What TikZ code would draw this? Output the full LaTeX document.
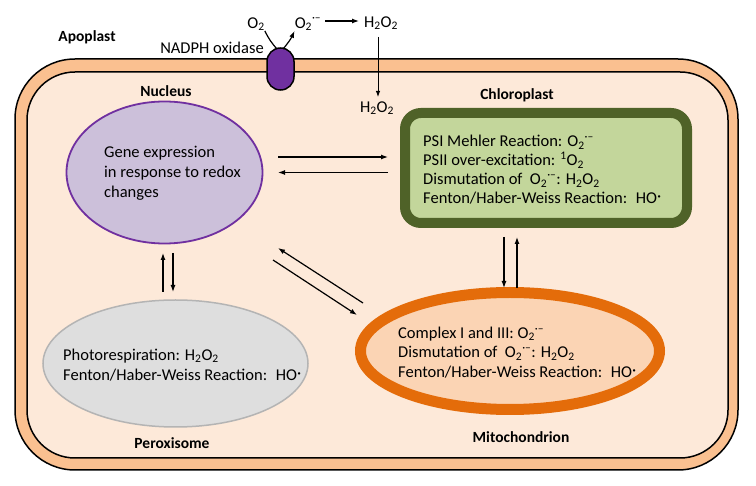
\documentclass[tikz,border=0pt]{standalone}
\usepackage{fontspec}
\setmainfont{Carlito}
\usetikzlibrary{arrows.meta,shapes.geometric}
\definecolor{membrane}{HTML}{FAC090}
\definecolor{cyto}{HTML}{FDE9D9}
\definecolor{pillpurple}{HTML}{7030A0}
\definecolor{nucfill}{HTML}{CCC0DA}
\definecolor{nucline}{HTML}{7030A0}
\definecolor{chlline}{HTML}{4F6228}
\definecolor{chlfill}{HTML}{C3D69B}
\definecolor{mitline}{HTML}{E46C0A}
\definecolor{mitfill}{HTML}{FBD4B4}
\definecolor{perfill}{HTML}{DEDEDE}
\definecolor{perline}{HTML}{B4B4B4}
\newcommand{\Otwo}{O\textsubscript{2}}
\newcommand{\Osup}{O\textsubscript{2}\textsuperscript{·–}}
\newcommand{\HtwoOtwo}{H\textsubscript{2}O\textsubscript{2}}
\newcommand{\HOrad}{HO\raisebox{0.12em}{·}}
\begin{document}
\begin{tikzpicture}[x=1pt,y=-1pt,
  every node/.style={font=\fontsize{16.5}{20}\selectfont, inner sep=0pt},
  lbl/.style={font=\bfseries\fontsize{15.5}{18}\selectfont},
  body/.style={align=left, anchor=west},
  arr/.style={line width=1.2pt, -{Latex[length=7pt,width=5pt]}},
  organelle/.style={ellipse, inner sep=0pt}]
\useasboundingbox (0,0) rectangle (756,486);
% cell
\node[draw=black, line width=1.5pt, fill=membrane, rounded corners=60pt,
  minimum width=723pt, minimum height=411pt] (wall) at (376.5,264.5) {};
\node[draw=black, line width=1.5pt, fill=cyto, rounded corners=48pt,
  minimum width=701pt, minimum height=386pt] (cytoplasm) at (377.5,265) {};
% NADPH oxidase
\node[draw=black, line width=1.5pt, fill=pillpurple, rounded corners=13.5pt,
  minimum width=27pt, minimum height=42pt] (pill) at (280.5,69) {};
\node[lbl] (apo) at (87,37) {Apoplast};
\node (nadph) at (212,48) {NADPH oxidase};
\node (o2) at (256,24) {\Otwo};
\node (o2s) at (308,24) {\Osup};
\node (h2o2a) at (381,23) {\HtwoOtwo};
\node (h2o2b) at (377,108) {\HtwoOtwo};
\coordinate (pl) at (277,49);
\coordinate (pr) at (283,49);
\draw[line width=1.2pt] (o2.south east) to[bend right=8] (pl);
\draw[arr] (pr) to[bend right=8] (o2s.south west);
\coordinate (ha) at (325,21);
\coordinate (hb) at (359,21);
\draw[arr] (ha) -- (hb);
\coordinate (va) at (378,37);
\coordinate (vb) at (378,97);
\draw[line width=1pt, -{Latex[length=6pt,width=4.5pt]}] (va) -- (vb);
% Nucleus
\node[lbl] (nuclbl) at (166,91) {Nucleus};
\node[organelle, draw=nucline, line width=1.8pt, fill=nucfill,
  minimum width=196pt, minimum height=142pt] (nuc) at (164.5,172.5) {};
\node[body] (nuctext) at (104,173) {Gene expression\\in response to redox\\changes};
% Chloroplast
\node[lbl] (chllbl) at (517,95) {Chloroplast};
\node[draw=chlline, line width=10pt, fill=chlfill, rounded corners=16pt,
  minimum width=282pt, minimum height=110pt] (chl) at (546,168) {};
\node[body, font=\fontsize{16.5}{19}\selectfont] (chltext) at (423,170) {PSI Mehler Reaction: \Osup\\PSII over-excitation: \textsuperscript{1}\Otwo\\Dismutation of \ \Osup: \HtwoOtwo\\Fenton/Haber-Weiss Reaction: \ \HOrad};
% Mitochondrion
\node[organelle, draw=mitline, line width=11pt, fill=mitfill,
  minimum width=299pt, minimum height=117pt] (mit) at (510,351) {};
\node[body, font=\fontsize{16.5}{19.5}\selectfont] (mittext) at (398,352.5) {Complex I and III: \Osup\\Dismutation of \ \Osup: \HtwoOtwo\\Fenton/Haber-Weiss Reaction: \ \HOrad};
\node[lbl] (mitlbl) at (521,437) {Mitochondrion};
% Peroxisome
\node[organelle, draw=perline, line width=1.5pt, fill=perfill,
  minimum width=265pt, minimum height=127pt] (per) at (175.5,363.5) {};
\node[body] (pertext) at (63,365) {Photorespiration: \HtwoOtwo\\Fenton/Haber-Weiss Reaction: \ \HOrad};
\node[lbl] (perlbl) at (172,443) {Peroxisome};
% arrows nucleus <-> chloroplast
\coordinate (nc1) at (278,157); \coordinate (cn1) at (388,157);
\coordinate (nc2) at (278,172.5); \coordinate (cn2) at (388,172.5);
\draw[arr] (nc1) -- (cn1);
\draw[arr] (cn2) -- (nc2);
% nucleus <-> peroxisome
\coordinate (np1) at (163,253); \coordinate (pn1) at (163,292);
\coordinate (np2) at (173,253); \coordinate (pn2) at (173,292);
\draw[arr] (pn1) -- (np1);
\draw[arr] (np2) -- (pn2);
% nucleus <-> mitochondrion
\coordinate (nm1) at (278,248); \coordinate (mn1) at (363,303);
\coordinate (nm2) at (273,260); \coordinate (mn2) at (357,315);
\draw[arr] (mn1) -- (nm1);
\draw[arr] (nm2) -- (mn2);
% chloroplast <-> mitochondrion
\coordinate (cm1) at (504,237); \coordinate (mc1) at (504,288);
\coordinate (cm2) at (517,237); \coordinate (mc2) at (517,288);
\draw[arr] (cm1) -- (mc1);
\draw[arr] (mc2) -- (cm2);
\end{tikzpicture}
\end{document}
